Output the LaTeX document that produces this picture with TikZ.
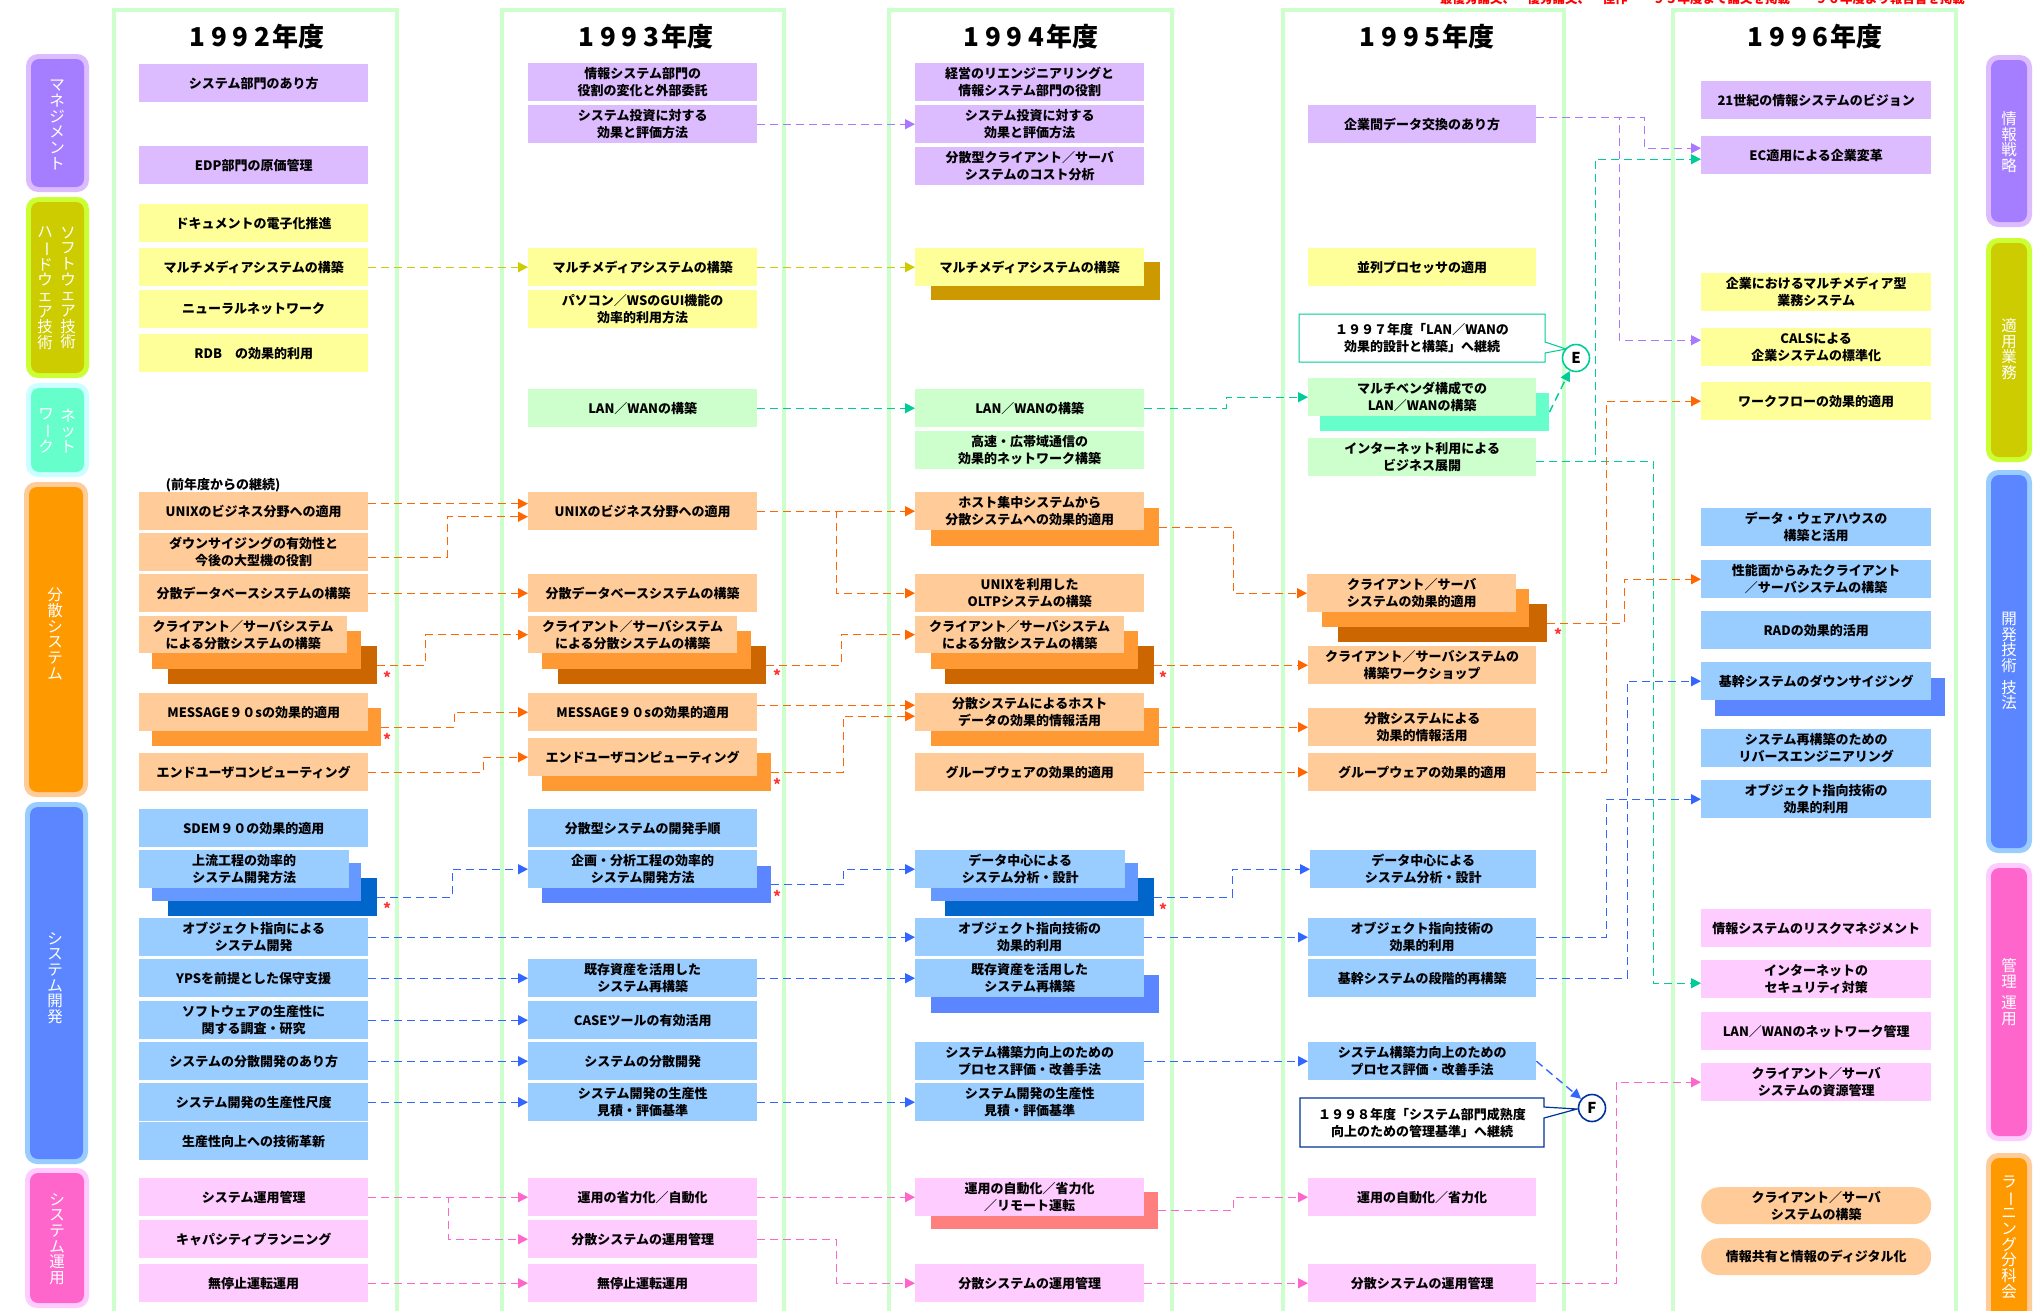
\documentclass[tikz,border=0pt]{standalone}
\usepackage{fontspec}
\setmainfont{Noto Sans CJK JP}
\usepackage{graphicx}
\usetikzlibrary{arrows.meta}
\definecolor{cPu}{HTML}{DDBBFF}
\definecolor{cYe}{HTML}{FFFF99}
\definecolor{cGr}{HTML}{CCFFCC}
\definecolor{cOr}{HTML}{FFCC99}
\definecolor{cBl}{HTML}{99CCFF}
\definecolor{cPk}{HTML}{FFCCFF}
\definecolor{cOrM}{HTML}{FF9933}
\definecolor{cOrD}{HTML}{CC6600}
\definecolor{cBlM}{HTML}{6699FF}
\definecolor{cBlD}{HTML}{0066CC}
\definecolor{cBlS}{HTML}{5B86FF}
\definecolor{cSalm}{HTML}{FF7F7F}
\definecolor{cGold}{HTML}{CC9900}
\definecolor{cTealS}{HTML}{66FFCC}
\definecolor{cFrame}{HTML}{CCFFCC}
\definecolor{lP}{HTML}{AA77FF}
\definecolor{lY}{HTML}{CCCC00}
\definecolor{lT}{HTML}{00CC99}
\definecolor{lO}{HTML}{FF6600}
\definecolor{lB}{HTML}{3366FF}
\definecolor{lK}{HTML}{FF66CC}
\definecolor{lNavy}{HTML}{003399}
\definecolor{cPuO}{HTML}{DDBBFF}
\definecolor{cPuI}{HTML}{A57EFF}
\definecolor{cYeO}{HTML}{CCFF33}
\definecolor{cYeI}{HTML}{CCCC00}
\definecolor{cGrO}{HTML}{CCFFFF}
\definecolor{cGrI}{HTML}{66FFCC}
\definecolor{cOrO}{HTML}{FFCC99}
\definecolor{cOrI}{HTML}{FF9900}
\definecolor{cBlO}{HTML}{99CCFF}
\definecolor{cBlI}{HTML}{5B86FF}
\definecolor{cPkO}{HTML}{FFCCFF}
\definecolor{cPkI}{HTML}{FF66CC}
\definecolor{cStar}{HTML}{FF3333}
\definecolor{cRedT}{HTML}{FF0000}
\newcommand\myvbar{\rotatebox[origin=c]{-90}{ー}}
\newcommand\yr[1]{1\hspace{6pt}9\hspace{6pt}9\hspace{6pt}#1\hspace{2pt}年度}
\tikzset{
  bx/.style={rectangle, inner sep=0pt, anchor=north west, minimum height=38pt, minimum width=229pt, align=center, font=\bfseries\fontsize{13}{17}\selectfont, text=black},
  wsix/.style={minimum width=230pt},
  sq/.style={rectangle, inner sep=0pt, anchor=north west, minimum height=38pt},
  fP/.style={fill=cPu}, fY/.style={fill=cYe}, fG/.style={fill=cGr},
  fO/.style={fill=cOr}, fB/.style={fill=cBl}, fK/.style={fill=cPk},
  ln/.style={line width=1.4pt, dash pattern=on 8pt off 5pt, -{Triangle[length=10pt,width=10pt]}},
  aP/.style={ln, draw=lP}, aY/.style={ln, draw=lY}, aT/.style={ln, draw=lT},
  aO/.style={ln, draw=lO}, aB/.style={ln, draw=lB}, aK/.style={ln, draw=lK},
  frm/.style={draw=cFrame, line width=4pt},
  hdr/.style={font=\bfseries\fontsize{26}{26}\selectfont, inner sep=0pt},
  cat/.style={text=white, align=center, inner sep=0pt, font=\fontsize{15.5}{15.7}\selectfont},
  starmark/.style={text=cStar, inner sep=0pt, font=\bfseries\fontsize{15}{15}\selectfont},
  circ/.style={circle, fill=white, line width=1.6pt, inner sep=0pt, minimum size=27pt, font=\bfseries\fontsize{15}{15}\selectfont},
  callt/.style={align=center, inner sep=0pt, font=\bfseries\fontsize{13}{17}\selectfont}
}
\begin{document}
\begin{tikzpicture}[x=1pt,y=-1pt]
\useasboundingbox (0,0) rectangle (2039,1310);
\fill[white] (0,0) rectangle (2039,1310);

% ---------- legend (cut off at top edge) ----------
\node[anchor=base west, inner sep=0pt, text=cRedT, font=\bfseries\fontsize{12.5}{12.5}\selectfont] (legend) at (1440,3) {最優秀論文、　優秀論文、　佳作　　９５年度まで論文を掲載　　９６年度より報告書を掲載};

% ---------- column frames ----------
\foreach \a/\b in {114/397,502/784,889/1172,1283/1564,1673/1956}
  \draw[frm] (\a,10) rectangle (\b,1335);

% ---------- headers ----------
\node[hdr] (h92) at (257,37) {\yr{2}};
\node[hdr] (h93) at (646,37) {\yr{3}};
\node[hdr] (h94) at (1031,37) {\yr{4}};
\node[hdr] (h95) at (1427,37) {\yr{5}};
\node[hdr] (h96) at (1815,37) {\yr{6}};

% ---------- left category bars ----------
\fill[cPuO,rounded corners=12pt] (26,54) rectangle (89,192);
\fill[cPuI,rounded corners=8pt] (31,59) rectangle (84,187);
\fill[cYeO,rounded corners=12pt] (26,197) rectangle (89,378);
\fill[cYeI,rounded corners=8pt] (31,202) rectangle (84,373);
\fill[cGrO,rounded corners=12pt] (26,383) rectangle (89,477);
\fill[cGrI,rounded corners=8pt] (31,388) rectangle (84,472);
\fill[cOrO,rounded corners=12pt] (24,482) rectangle (88,797);
\fill[cOrI,rounded corners=8pt] (29,487) rectangle (83,792);
\fill[cBlO,rounded corners=12pt] (25,802) rectangle (88,1164);
\fill[cBlI,rounded corners=8pt] (30,807) rectangle (83,1159);
\fill[cPkO,rounded corners=12pt] (25,1168) rectangle (89,1308);
\fill[cPkI,rounded corners=8pt] (30,1173) rectangle (84,1303);

\node[cat] (tM) at (57,125) {マ\\ネ\\ジ\\メ\\ン\\ト};
\node[cat] (tS1) at (68,288) {ソ\\フ\\ト\\ウ\\ェ\\ア\\技\\術};
\node[cat] (tS2) at (45,288) {ハ\\\myvbar\\ド\\ウ\\ェ\\ア\\技\\術};
\node[cat] (tN1) at (68,431) {ネ\\ッ\\ト};
\node[cat] (tN2) at (46,431) {ワ\\\myvbar\\ク};
\node[cat] (tD) at (55,634) {分\\散\\シ\\ス\\テ\\ム};
\node[cat] (tK) at (55,978) {シ\\ス\\テ\\ム\\開\\発};
\node[cat] (tU) at (57,1239) {シ\\ス\\テ\\ム\\運\\用};

% ---------- right category bars ----------
\fill[cPuO,rounded corners=12pt] (1986,55) rectangle (2032,227);
\fill[cPuI,rounded corners=8pt] (1991,60) rectangle (2027,222);
\fill[cYeO,rounded corners=12pt] (1986,238) rectangle (2032,462);
\fill[cYeI,rounded corners=8pt] (1991,243) rectangle (2027,457);
\fill[cBlO,rounded corners=12pt] (1986,470) rectangle (2032,853);
\fill[cBlI,rounded corners=8pt] (1991,475) rectangle (2027,848);
\fill[cPkO,rounded corners=12pt] (1986,863) rectangle (2032,1141);
\fill[cPkI,rounded corners=8pt] (1991,868) rectangle (2027,1136);
\fill[cOrO,rounded corners=12pt] (1986,1153) rectangle (2032,1330);
\fill[cOrI,rounded corners=8pt] (1991,1158) rectangle (2027,1325);

\node[cat] (rS) at (2009,142) {情\\報\\戦\\略};
\node[cat] (rA) at (2009,349) {適\\用\\業\\務};
\node[cat] (rG) at (2009,661) {開\\発\\技\\術\\[6pt]技\\法};
\node[cat] (rK) at (2009,992) {管\\理\\[6pt]運\\用};
\node[cat] (rL) at (2009,1237) {ラ\\\myvbar\\ニ\\ン\\グ\\分\\科\\会};

% ================= 1992 =================
\node[bx,fP] (n92a) at (139,64) {システム部門のあり方};
\node[bx,fP] (n92b) at (139,146) {EDP部門の原価管理};
\node[bx,fY] (n92c) at (139,204) {ドキュメントの電子化推進};
\node[bx,fY] (n92d) at (139,248) {マルチメディアシステムの構築};
\node[bx,fY] (n92e) at (139,290) {ニューラルネットワーク};
\node[bx,fY] (n92f) at (139,334) {RDB　の効果的利用};
\node[inner sep=0pt, font=\bfseries\fontsize{13}{17}\selectfont] (n92lbl) at (223,485) {(前年度からの継続)};
\node[bx,fO] (n92g) at (139,492) {UNIXのビジネス分野への適用};
\node[bx,fO] (n92h) at (139,533) {ダウンサイジングの有効性と\\今後の大型機の役割};
\node[bx,fO] (n92i) at (139,574) {分散データベースシステムの構築};
\node[sq,fill=cOrD,minimum width=209pt] (n92jD) at (168,646) {};
\node[sq,fill=cOrM,minimum width=209pt] (n92jM) at (152,631) {};
\node[bx,fO,minimum width=208pt,minimum height=37pt] (n92j) at (139,616) {クライアント／サーバシステム\\による分散システムの構築};
\node[sq,fill=cOrM,minimum width=229pt] (n92kS) at (152,708) {};
\node[bx,fO] (n92k) at (139,693) {MESSAGE９０sの効果的適用};
\node[bx,fO] (n92l) at (139,753) {エンドユーザコンピューティング};
\node[bx,fB] (n92m) at (139,809) {SDEM９０の効果的適用};
\node[sq,fill=cBlD,minimum width=209pt] (n92nD) at (168,878) {};
\node[sq,fill=cBlM,minimum width=209pt] (n92nM) at (152,863) {};
\node[bx,fB,minimum width=210pt] (n92n) at (139,850) {上流工程の効率的\\システム開発方法};
\node[bx,fB] (n92o) at (139,918) {オブジェクト指向による\\システム開発};
\node[bx,fB] (n92p) at (139,959) {YPSを前提とした保守支援};
\node[bx,fB] (n92q) at (139,1001) {ソフトウェアの生産性に\\関する調査・研究};
\node[bx,fB] (n92r) at (139,1042) {システムの分散開発のあり方};
\node[bx,fB] (n92s) at (139,1083) {システム開発の生産性尺度};
\node[bx,fB] (n92t) at (139,1122) {生産性向上への技術革新};
\node[bx,fK] (n92u) at (139,1178) {システム運用管理};
\node[bx,fK] (n92v) at (139,1220) {キャパシティプランニング};
\node[bx,fK] (n92w) at (139,1264) {無停止運転運用};

% ================= 1993 =================
\node[bx,fP] (n93a) at (528,63) {情報システム部門の\\役割の変化と外部委託};
\node[bx,fP] (n93b) at (528,105) {システム投資に対する\\効果と評価方法};
\node[bx,fY] (n93d) at (528,248) {マルチメディアシステムの構築};
\node[bx,fY] (n93e) at (528,290) {パソコン／WSのGUI機能の\\効率的利用方法};
\node[bx,fG] (n93f) at (528,389) {LAN／WANの構築};
\node[bx,fO] (n93g) at (528,492) {UNIXのビジネス分野への適用};
\node[bx,fO] (n93i) at (528,574) {分散データベースシステムの構築};
\node[sq,fill=cOrD,minimum width=208pt] (n93jD) at (558,646) {};
\node[sq,fill=cOrM,minimum width=209pt] (n93jM) at (542,631) {};
\node[bx,fO,minimum width=209pt,minimum height=37pt] (n93j) at (528,616) {クライアント／サーバシステム\\による分散システムの構築};
\node[bx,fO] (n93k) at (528,693) {MESSAGE９０sの効果的適用};
\node[sq,fill=cOrM,minimum width=229pt] (n93lS) at (542,753) {};
\node[bx,fO] (n93l) at (528,738) {エンドユーザコンピューティング};
\node[bx,fB] (n93m) at (528,809) {分散型システムの開発手順};
\node[sq,fill=cBlS,minimum width=229pt,minimum height=37pt] (n93nS) at (542,866) {};
\node[bx,fB] (n93n) at (528,850) {企画・分析工程の効率的\\システム開発方法};
\node[bx,fB] (n93p) at (528,959) {既存資産を活用した\\システム再構築};
\node[bx,fB] (n93q) at (528,1001) {CASEツールの有効活用};
\node[bx,fB] (n93r) at (528,1042) {システムの分散開発};
\node[bx,fB] (n93s) at (528,1083) {システム開発の生産性\\見積・評価基準};
\node[bx,fK] (n93u) at (528,1178) {運用の省力化／自動化};
\node[bx,fK] (n93v) at (528,1220) {分散システムの運用管理};
\node[bx,fK] (n93w) at (528,1264) {無停止運転運用};

% ================= 1994 =================
\node[bx,fP] (n94a) at (915,63) {経営のリエンジニアリングと\\情報システム部門の役割};
\node[bx,fP] (n94b) at (915,105) {システム投資に対する\\効果と評価方法};
\node[bx,fP] (n94c) at (915,147) {分散型クライアント／サーバ\\システムのコスト分析};
\node[sq,fill=cGold,minimum width=229pt] (n94dS) at (931,262) {};
\node[bx,fY] (n94d) at (915,248) {マルチメディアシステムの構築};
\node[bx,fG] (n94f) at (915,389) {LAN／WANの構築};
\node[bx,fG] (n94f2) at (915,431) {高速・広帯域通信の\\効果的ネットワーク構築};
\node[sq,fill=cOrM,minimum width=228pt] (n94gS) at (931,508) {};
\node[bx,fO] (n94g) at (915,492) {ホスト集中システムから\\分散システムへの効果的適用};
\node[bx,fO] (n94h) at (915,574) {UNIXを利用した\\OLTPシステムの構築};
\node[sq,fill=cOrD,minimum width=209pt] (n94jD) at (945,646) {};
\node[sq,fill=cOrM,minimum width=207pt] (n94jM) at (931,631) {};
\node[bx,fO,minimum width=209pt,minimum height=37pt] (n94j) at (915,616) {クライアント／サーバシステム\\による分散システムの構築};
\node[sq,fill=cOrM,minimum width=228pt] (n94kS) at (931,708) {};
\node[bx,fO] (n94k) at (915,693) {分散システムによるホスト\\データの効果的情報活用};
\node[bx,fO] (n94l) at (915,753) {グループウェアの効果的適用};
\node[sq,fill=cBlD,minimum width=209pt] (n94nD) at (945,878) {};
\node[sq,fill=cBlM,minimum width=207pt] (n94nM) at (931,863) {};
\node[bx,fB,minimum width=210pt] (n94n) at (915,850) {データ中心による\\システム分析・設計};
\node[bx,fB] (n94o) at (915,918) {オブジェクト指向技術の\\効果的利用};
\node[sq,fill=cBlS,minimum width=228pt] (n94pS) at (931,975) {};
\node[bx,fB] (n94p) at (915,959) {既存資産を活用した\\システム再構築};
\node[bx,fB] (n94r) at (915,1042) {システム構築力向上のための\\プロセス評価・改善手法};
\node[bx,fB] (n94s) at (915,1083) {システム開発の生産性\\見積・評価基準};
\node[sq,fill=cSalm,minimum width=227pt,minimum height=37pt] (n94uS) at (931,1192) {};
\node[bx,fK] (n94u) at (915,1178) {運用の自動化／省力化\\／リモート運転};
\node[bx,fK] (n94w) at (915,1264) {分散システムの運用管理};

% ================= 1995 =================
\node[bx,fP,minimum width=228pt] (n95b) at (1308,105) {企業間データ交換のあり方};
\node[bx,fY,minimum width=228pt] (n95d) at (1308,248) {並列プロセッサの適用};
\draw[draw=lT, line width=1pt, fill=white] (1299,314) -- (1545,314) -- (1545,342) -- (1566,349) -- (1545,353) -- (1545,362) -- (1299,362) -- cycle;
\node[callt] (cE) at (1422,338) {１９９７年度「LAN／WANの\\効果的設計と構築」へ継続};
\node[circ, draw=lT] (E) at (1576,358) {E};
\node[sq,fill=cTealS,minimum width=229pt] (n95fS) at (1320,393) {};
\node[bx,fG,minimum width=228pt] (n95f) at (1308,378) {マルチベンダ構成での\\LAN／WANの構築};
\node[bx,fG,minimum width=228pt] (n95f2) at (1308,438) {インターネット利用による\\ビジネス展開};
\node[sq,fill=cOrD,minimum width=209pt] (n95hD) at (1338,604) {};
\node[sq,fill=cOrM,minimum width=207pt] (n95hM) at (1322,589) {};
\node[bx,fO,minimum width=209pt] (n95h) at (1307,574) {クライアント／サーバ\\システムの効果的適用};
\node[bx,fO,minimum width=228pt] (n95j) at (1308,646) {クライアント／サーバシステムの\\構築ワークショップ};
\node[bx,fO,minimum width=228pt] (n95k) at (1308,708) {分散システムによる\\効果的情報活用};
\node[bx,fO,minimum width=228pt] (n95l) at (1308,753) {グループウェアの効果的適用};
\node[bx,fB,minimum width=226pt] (n95n) at (1310,850) {データ中心による\\システム分析・設計};
\node[bx,fB,minimum width=228pt] (n95o) at (1308,918) {オブジェクト指向技術の\\効果的利用};
\node[bx,fB,minimum width=228pt] (n95p) at (1308,959) {基幹システムの段階的再構築};
\node[bx,fB,minimum width=228pt] (n95r) at (1308,1042) {システム構築力向上のための\\プロセス評価・改善手法};
\draw[draw=lNavy, line width=1.2pt, fill=white] (1300,1098) -- (1544,1098) -- (1544,1107) -- (1577,1109) -- (1544,1118) -- (1544,1147) -- (1300,1147) -- cycle;
\node[callt] (cF) at (1422,1123) {１９９８年度「システム部門成熟度\\向上のための管理基準」へ継続};
\node[circ, draw=lNavy] (F) at (1592,1108) {F};
\node[bx,fK,minimum width=228pt] (n95u) at (1308,1178) {運用の自動化／省力化};
\node[bx,fK,minimum width=228pt] (n95w) at (1308,1264) {分散システムの運用管理};

% ================= 1996 =================
\node[bx,fP,wsix] (n96a) at (1701,81) {21世紀の情報システムのビジョン};
\node[bx,fP,wsix] (n96b) at (1701,136) {EC適用による企業変革};
\node[bx,fY,wsix] (n96c) at (1701,273) {企業におけるマルチメディア型\\業務システム};
\node[bx,fY,wsix] (n96d) at (1701,328) {CALSによる\\企業システムの標準化};
\node[bx,fY,wsix] (n96e) at (1701,382) {ワークフローの効果的適用};
\node[bx,fB,wsix] (n96f) at (1701,508) {データ・ウェアハウスの\\構築と活用};
\node[bx,fB,wsix] (n96g) at (1701,560) {性能面からみたクライアント\\／サーバシステムの構築};
\node[bx,fB,wsix] (n96h) at (1701,611) {RADの効果的活用};
\node[sq,fill=cBlS,minimum width=230pt] (n96iS) at (1715,678) {};
\node[bx,fB,wsix] (n96i) at (1701,662) {基幹システムのダウンサイジング};
\node[bx,fB,wsix] (n96j) at (1701,729) {システム再構築のための\\リバースエンジニアリング};
\node[bx,fB,wsix] (n96k) at (1701,780) {オブジェクト指向技術の\\効果的利用};
\node[bx,fK,wsix] (n96l) at (1701,909) {情報システムのリスクマネジメント};
\node[bx,fK,wsix] (n96m) at (1701,960) {インターネットの\\セキュリティ対策};
\node[bx,fK,wsix] (n96n) at (1701,1012) {LAN／WANのネットワーク管理};
\node[bx,fK,wsix] (n96o) at (1701,1063) {クライアント／サーバ\\システムの資源管理};
\node[bx,fO,wsix,rounded corners=18pt,minimum height=37pt] (n96p) at (1701,1187) {クライアント／サーバ\\システムの構築};
\node[bx,fO,wsix,rounded corners=18pt,minimum height=37pt] (n96q) at (1701,1238) {情報共有と情報のディジタル化};

% ---------- stars ----------
\node[starmark] (s1) at (387,677) {*};
\node[starmark] (s2) at (387,739) {*};
\node[starmark] (s3) at (387,908) {*};
\node[starmark] (s4) at (777,675) {*};
\node[starmark] (s5) at (777,784) {*};
\node[starmark] (s6) at (777,896) {*};
\node[starmark] (s7) at (1163,677) {*};
\node[starmark] (s8) at (1163,909) {*};
\node[starmark] (s9) at (1558,634) {*};

% ================= connectors =================
% purple
\draw[aP] (n93b.east) -- (n94b.west);
\draw[aP] ([yshift=7pt]n95b.east) -- ++(108,0) |- ([yshift=7pt]n96b.west);
\draw[aP] ([yshift=7pt]n95b.east) -- ++(83,0) |- ([yshift=7pt]n96d.west);
% yellow
\draw[aY] (n92d.east) -- (n93d.west);
\draw[aY] (n93d.east) -- (n94d.west);
% teal
\draw[aT] (n93f.east) -- (n94f.west);
\draw[aT] (n94f.east) -- ++(82,0) |- (n95f.west);
\draw[aT] ([yshift=-4pt]n95f2.east) -- ++(59,0) |- ([yshift=-4pt]n96b.west);
\draw[aT] ([yshift=-4pt]n95f2.east) -- ++(117,0) |- ([yshift=-4pt]n96m.west);
\draw[aT] (n95fS.east) -- (E);
% orange 92->93
\draw[aO] ([yshift=7.5pt]n92g.east) -- ([yshift=7.5pt]n93g.west);
\draw[aO] ([yshift=-5pt]n92h.east) -- ++(79,0) |- ([yshift=-5.5pt]n93g.west);
\draw[aO] (n92i.east) -- (n93i.west);
\draw[aO] (n92jD.east) -- ++(48,0) |- (n93j.west);
\draw[aO] (n92kS.east) -- ++(73,0) |- (n93k.west);
\draw[aO] (n92l.east) -- ++(115,0) |- (n93l.west);
% orange 93->94
\draw[aO] (n93g.east) -- (n94g.west);
\draw[aO] (n93g.east) -- ++(79,0) |- (n94h.west);
\draw[aO] (n93jD.east) -- ++(75,0) |- (n94j.west);
\draw[aO] ([yshift=7pt]n93k.east) -- ([yshift=7pt]n94k.west);
\draw[aO] (n93lS.east) -- ++(72,0) |- ([yshift=-4pt]n94k.west);
% orange 94->95
\draw[aO] (n94gS.east) -- ++(74,0) |- (n95h.west);
\draw[aO] (n94jD.east) -- (n95j.west);
\draw[aO] (n94kS.east) -- (n95k.west);
\draw[aO] (n94l.east) -- (n95l.west);
% orange 95->96
\draw[aO] (n95hD.east) -- ++(77,0) |- (n96g.west);
\draw[aO] (n95l.east) -- ++(70,0) |- (n96e.west);
% blue
\draw[aB] (n92nD.east) -- ++(75,0) |- (n93n.west);
\draw[aB] (n92o.east) -- (n94o.west);
\draw[aB] (n92p.east) -- (n93p.west);
\draw[aB] (n92q.east) -- (n93q.west);
\draw[aB] (n92r.east) -- (n93r.west);
\draw[aB] (n92s.east) -- (n93s.west);
\draw[aB] (n93nS.east) -- ++(72,0) |- (n94n.west);
\draw[aB] (n93p.east) -- (n94p.west);
\draw[aB] (n93s.east) -- (n94s.west);
\draw[aB] (n94nD.east) -- ++(78,0) |- (n95n.west);
\draw[aB] (n94o.east) -- (n95o.west);
\draw[aB] (n94r.east) -- (n95r.west);
\draw[aB] (n95o.east) -- ++(70,0) |- (n96k.west);
\draw[aB] (n95p.east) -- ++(91,0) |- (n96i.west);
\draw[aB] (n95r.east) -- (F);
% pink
\draw[aK] (n92u.east) -- (n93u.west);
\draw[aK] (n92u.east) -- ++(80,0) |- (n93v.west);
\draw[aK] (n92w.east) -- (n93w.west);
\draw[aK] (n93u.east) -- (n94u.west);
\draw[aK] (n93v.east) -- ++(79,0) |- (n94w.west);
\draw[aK] (n94uS.east) -- ++(75,0) |- (n95u.west);
\draw[aK] (n94w.east) -- (n95w.west);
\draw[aK] (n95w.east) -- ++(80,0) |- (n96o.west);
\end{tikzpicture}
\end{document}
